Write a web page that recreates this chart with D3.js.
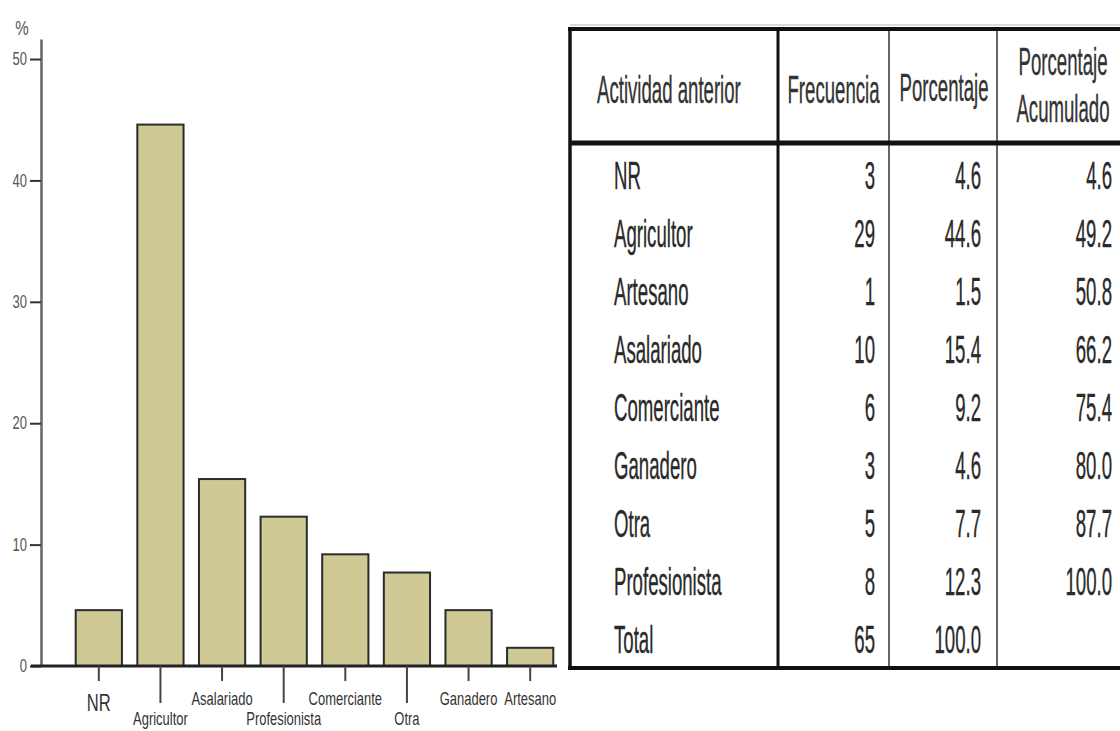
<!DOCTYPE html>
<html>
<head>
<meta charset="utf-8">
<script src="https://cdn.jsdelivr.net/npm/d3@7"></script>
<style>
  html, body { margin: 0; padding: 0; background: #ffffff; }
  svg { display: block; }
  text { font-family: "Liberation Sans", Arial, sans-serif; }
</style>
</head>
<body>
<svg id="chart" width="1120" height="731"></svg>
<script>
// ---------- DATA ----------
const barCategories = ["NR", "Agricultor", "Asalariado", "Profesionista", "Comerciante", "Otra", "Ganadero", "Artesano"];
const barValues = [4.6, 44.6, 15.4, 12.3, 9.2, 7.7, 4.6, 1.5];
const yTickValues = [0, 10, 20, 30, 40, 50];
const yAxisLabel = "%";

const tableHeaders = ["Actividad anterior", "Frecuencia", "Porcentaje", "Porcentaje\nAcumulado"];
const tableRowLabels = ["NR", "Agricultor", "Artesano", "Asalariado", "Comerciante", "Ganadero", "Otra", "Profesionista", "Total"];
const frecuencia = ["3", "29", "1", "10", "6", "3", "5", "8", "65"];
const porcentaje = ["4.6", "44.6", "1.5", "15.4", "9.2", "4.6", "7.7", "12.3", "100.0"];
const porcentajeAcumulado = ["4.6", "49.2", "50.8", "66.2", "75.4", "80.0", "87.7", "100.0", ""];

// ---------- HELPERS ----------
const svg = d3.select("#chart");

// condensed text: group translated then horizontally scaled
function narrow(parent, x, y, str, size, sx, anchor, color, sw) {
  const g = parent.append("g").attr("transform", `translate(${x},${y}) scale(${sx},1)`);
  const t = g.append("text")
    .attr("x", 0).attr("y", 0)
    .attr("text-anchor", anchor || "start")
    .attr("font-size", size)
    .attr("fill", color || "#222")
    .text(str);
  if (sw) {
    t.attr("stroke", color || "#222").attr("stroke-width", sw).attr("vector-effect", "non-scaling-stroke");
  }
  return g;
}

// ---------- BAR CHART ----------
const x = d3.scaleBand().domain(barCategories).range([68, 561]).paddingInner(0.25).paddingOuter(0.125);
const y = d3.scaleLinear().domain([0, 51.65]).range([666, 39]);

const chart = svg.append("g");

// Y axis
const yAxis = d3.axisLeft(y).tickValues(yTickValues).tickSizeInner(11).tickSizeOuter(0).tickPadding(0).tickFormat(d3.format("d"));
const yg = chart.append("g").attr("transform", "translate(41,0)").call(yAxis);
yg.select(".domain").attr("stroke", "#6a6a6a").attr("stroke-width", 2.6);
yg.selectAll(".tick line").attr("stroke", "#333").attr("stroke-width", 2);
yg.selectAll(".tick text")
  .attr("font-family", "Liberation Sans, Arial, sans-serif")
  .attr("font-size", 18)
  .attr("fill", "#555")
  .attr("x", -14 / 0.72)
  .attr("transform", "scale(0.72,1)");

narrow(chart, 22, 35, yAxisLabel, 21, 0.72, "middle", "#555");

// Bars
chart.selectAll("rect.bar")
  .data(barCategories.map((c, i) => ({ c, v: barValues[i] })))
  .join("rect")
  .attr("class", "bar")
  .attr("x", d => x(d.c))
  .attr("y", d => y(d.v))
  .attr("width", x.bandwidth())
  .attr("height", d => y(0) - y(d.v))
  .attr("fill", "#cfca95")
  .attr("stroke", "#2b2b2b")
  .attr("stroke-width", 2);

// X baseline
chart.append("line")
  .attr("x1", 31).attr("x2", 557)
  .attr("y1", y(0)).attr("y2", y(0))
  .attr("stroke", "#222").attr("stroke-width", 3);

// X ticks and staggered labels
barCategories.forEach((c, i) => {
  const cx = x(c) + x.bandwidth() / 2;
  const lower = (i % 2 === 1) && i < barCategories.length - 1;
  chart.append("line")
    .attr("x1", cx).attr("x2", cx)
    .attr("y1", y(0)).attr("y2", y(0) + (lower ? 37 : 15))
    .attr("stroke", "#444").attr("stroke-width", 2);
  const big = i === 0;
  narrow(chart, cx, lower ? 725 : (big ? 711 : 705), c, big ? 23 : 18, 0.72, "middle", "#333");
});

// ---------- TABLE ----------
const T = { left: 570, top: 29, headBottom: 143, bottom: 668, right: 1127 };
const colEdges = [570, 778, 889, 997, 1127];
const fs = 38, sx = 0.49, cap = fs * 0.716;
const tbl = svg.append("g");

const rowY = d3.scaleBand().domain(tableRowLabels).range([T.headBottom + 3, T.bottom]);

// header texts
narrow(tbl, 597, 103, tableHeaders[0], fs, sx, "start", "#333", 0.3);
narrow(tbl, (colEdges[1] + colEdges[2]) / 2, 103, tableHeaders[1], fs, sx, "middle", "#333", 0.3);
narrow(tbl, (colEdges[2] + colEdges[3]) / 2 + 1, 101, tableHeaders[2], fs, sx, "middle", "#333", 0.3);
tableHeaders[3].split("\n").forEach((ln, k) => {
  narrow(tbl, 1063, 75 + k * 47, ln, fs, sx, "middle", "#333", 0.3);
});

// body rows
tableRowLabels.forEach((lab, i) => {
  const base = rowY(lab) + rowY.bandwidth() / 2 + cap / 2;
  narrow(tbl, 614, base, lab, fs, sx, "start", "#2a2a2a", 0.3);
  narrow(tbl, colEdges[2] - 14, base, frecuencia[i], fs, sx, "end", "#2a2a2a", 0.3);
  narrow(tbl, colEdges[3] - 16, base, porcentaje[i], fs, sx, "end", "#2a2a2a", 0.3);
  if (porcentajeAcumulado[i] !== "")
    narrow(tbl, colEdges[4] - 15, base, porcentajeAcumulado[i], fs, sx, "end", "#2a2a2a", 0.3);
});

// table lines
const line = (x1, y1, x2, y2, w, c) => tbl.append("line")
  .attr("x1", x1).attr("y1", y1).attr("x2", x2).attr("y2", y2)
  .attr("stroke", c || "#111").attr("stroke-width", w);

line(T.left, T.top - 4, 1120, T.top - 4, 1.5, "#cfcfcf");
line(colEdges[2], T.top, colEdges[2], T.bottom, 1.8, "#555");
line(colEdges[3], T.top, colEdges[3], T.bottom, 1.8, "#555");
line(colEdges[1], T.top, colEdges[1], T.bottom, 3, "#111");
line(T.left, T.top - 2, T.left, T.bottom + 2, 3.5, "#111");
line(T.left - 2, T.top, 1120, T.top, 4, "#111");
line(T.left, T.headBottom, 1120, T.headBottom, 5, "#111");
line(T.left - 2, T.bottom, 1120, T.bottom, 4, "#111");
</script>
</body>
</html>
